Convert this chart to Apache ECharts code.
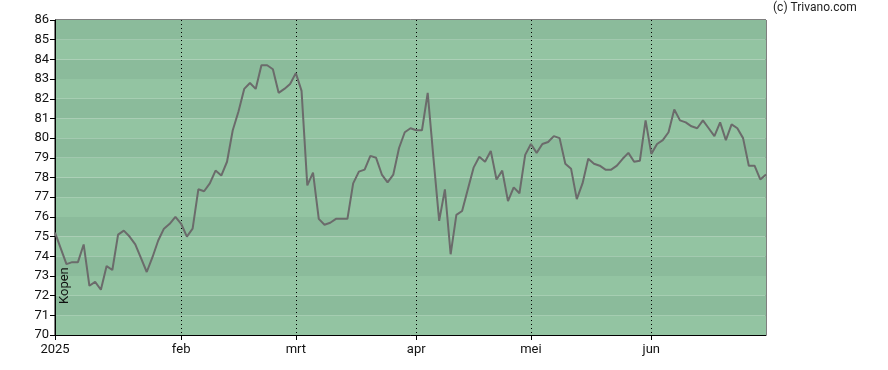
<!DOCTYPE html>
<html>
<head>
<meta charset="utf-8">
<script src="https://cdn.jsdelivr.net/npm/echarts@6/dist/echarts.min.js"></script>
<style>
  html, body { margin: 0; padding: 0; background: #fff; }
  #koers { width: 888px; height: 370px; }
</style>
</head>
<body>
<div id="koers"></div>
<script>
// koersen per handelsdag, 2 jan t/m 30 jun 2025
var koersJan = [75.2, 74.4, 73.6, 73.7, 73.7, 74.6, 72.5, 72.7, 72.3, 73.5, 73.3, 75.1, 75.3, 75.0, 74.6, 73.9, 73.2, 73.95, 74.8, 75.4, 75.65, 76.0];
var koersFeb = [75.65, 75.0, 75.4, 77.4, 77.3, 77.7, 78.35, 78.1, 78.8, 80.4, 81.35, 82.5, 82.8, 82.5, 83.7, 83.7, 83.5, 82.3, 82.5, 82.75];
var koersMrt = [83.3, 82.4, 77.6, 78.25, 75.9, 75.6, 75.7, 75.9, 75.9, 75.9, 77.7, 78.3, 78.4, 79.1, 79.0, 78.15, 77.75, 78.15, 79.5, 80.3, 80.5];
var koersApr = [80.4, 80.4, 82.3, 79.0, 75.8, 77.4, 74.1, 76.1, 76.3, 77.4, 78.5, 79.05, 78.8, 79.35, 77.9, 78.35, 76.8, 77.5, 77.2, 79.15];
var koersMei = [79.7, 79.25, 79.7, 79.8, 80.1, 80.0, 78.7, 78.45, 76.9, 77.7, 78.95, 78.7, 78.6, 78.4, 78.4, 78.6, 78.95, 79.25, 78.8, 78.85, 80.9];
var koersJun = [79.2, 79.7, 79.9, 80.3, 81.45, 80.9, 80.8, 80.6, 80.5, 80.9, 80.5, 80.1, 80.8, 79.9, 80.7, 80.5, 80.0, 78.6, 78.6, 77.9, 78.15];

var maandNamen = ['2025', 'feb', 'mrt', 'apr', 'mei', 'jun'];
var beursDicht = ['2025-04-18', '2025-04-21', '2025-05-01'];
var yLabels = { min: 70, max: 86, interval: 1 };

var koers = [].concat(koersJan, koersFeb, koersMrt, koersApr, koersMei, koersJun);

// handelsdagen opbouwen (weekenden en beursvakanties overslaan)
var dagen = [];
var d = new Date(Date.UTC(2025, 0, 2));
while (dagen.length < koers.length) {
    var iso = d.toISOString().slice(0, 10);
    var wd = d.getUTCDay();
    if (wd !== 0 && wd !== 6 && beursDicht.indexOf(iso) < 0) dagen.push(iso);
    d.setUTCDate(d.getUTCDate() + 1);
}
var maandStart = [];
dagen.forEach(function (s, i) {
    if (i === 0 || s.slice(5, 7) !== dagen[i - 1].slice(5, 7)) maandStart.push(i);
});
function isMaandStart(i) { return maandStart.indexOf(i) >= 0; }

var chart = echarts.init(document.getElementById('koers'), null, { renderer: 'canvas' });

var option = {
    animation: false,
    textStyle: { fontFamily: 'Roboto' },
    grid: {
        left: 55, top: 20, right: 122, bottom: 35,
        show: true, borderColor: '#000', borderWidth: 1,
        backgroundColor: 'transparent'
    },
    xAxis: {
        type: 'category',
        data: dagen,
        boundaryGap: false,
        axisLine: { lineStyle: { color: '#000', width: 1 } },
        axisTick: {
            interval: function (i) { return isMaandStart(i); },
            length: 5, lineStyle: { color: '#000' }
        },
        axisLabel: {
            interval: function (i) { return isMaandStart(i); },
            formatter: function (v, i) { return maandNamen[maandStart.indexOf(i)]; },
            color: '#111', fontSize: 13, margin: 8
        },
        splitLine: {
            show: true,
            interval: function (i) { return i > 0 && isMaandStart(i); },
            lineStyle: { color: '#000', type: [1, 3], width: 1 }
        }
    },
    yAxis: {
        type: 'value',
        min: yLabels.min, max: yLabels.max, interval: yLabels.interval,
        axisLine: { show: true, lineStyle: { color: '#000' } },
        axisTick: { show: true, length: 5, lineStyle: { color: '#000' } },
        axisLabel: { color: '#111', fontSize: 13, margin: 6 },
        splitLine: { show: false },
        splitArea: { show: true, areaStyle: { color: ['#93c4a2', '#8bbb9b'] } }
    },
    series: [{
        type: 'line',
        data: koers,
        symbol: 'none',
        lineStyle: { color: '#6b6b6b', width: 2 },
        z: 3
    }],
    graphic: [
        {
            type: 'text', left: 773, top: 2, z: 100,
            style: { text: '(c) Trivano.com', fontSize: 12, fill: '#222', fontFamily: 'Roboto' }
        },
        {
            type: 'text', z: 100, x: 58, y: 304, rotation: Math.PI / 2,
            style: { text: 'Kopen', fontSize: 13, fill: '#111', fontFamily: 'Roboto',
                     textAlign: 'left', textVerticalAlign: 'top' }
        }
    ]
};

chart.setOption(option);
window.addEventListener('resize', chart.resize);
</script>
</body>
</html>
